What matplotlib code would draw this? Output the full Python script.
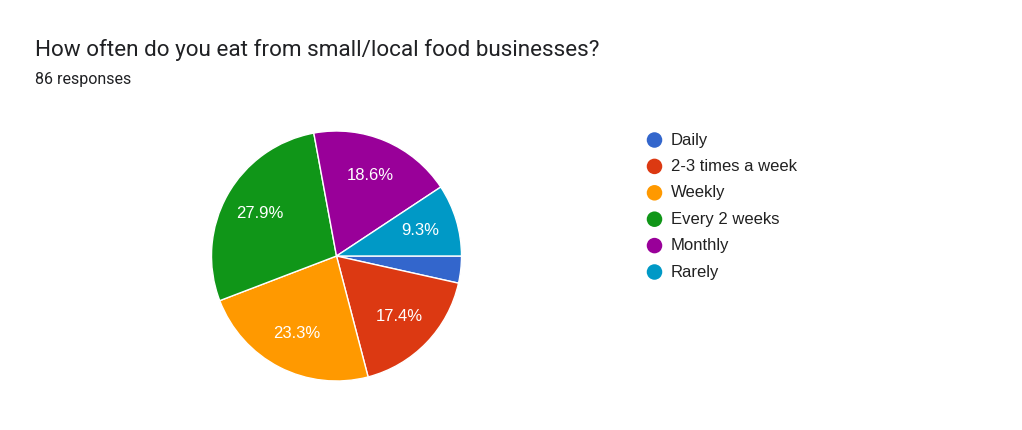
import matplotlib
matplotlib.use("Agg")
import matplotlib.pyplot as plt

W, H = 1022, 430

title = "How often do you eat from small/local food businesses?"
subtitle = "86 responses"
labels = ["Daily", "2-3 times a week", "Weekly", "Every 2 weeks", "Monthly", "Rarely"]
counts = [3, 15, 20, 24, 16, 8]
colors = ["#3366cc", "#dc3912", "#ff9900", "#109618", "#990099", "#0099c6"]


def pct(p):
    return f"{p:.1f}%" if p >= 5 else ""


fig = plt.figure(figsize=(W / 100, H / 100), dpi=100)
fig.patch.set_facecolor("white")

# pie: centre (336.5, 256), radius 125 px
cx, cy, r = 336.5, 256, 125
ax = fig.add_axes([(cx - r) / W, (H - cy - r) / H, 2 * r / W, 2 * r / H])
wedges, texts, autotexts = ax.pie(
    counts, colors=colors, startangle=0, counterclock=False,
    autopct=pct, pctdistance=0.7,
    wedgeprops=dict(edgecolor="white", linewidth=1.0),
    textprops=dict(color="white", fontsize=12, family="Liberation Sans"))
ax.set_xlim(-1, 1)
ax.set_ylim(-1, 1)
ax.set_aspect("equal")

# overlay in pixel coordinates for title and legend
ov = fig.add_axes([0, 0, 1, 1], facecolor="none")
ov.set_xlim(0, W)
ov.set_ylim(H, 0)
ov.axis("off")

ov.text(35, 56, title, fontsize=16.2, family="Roboto", color="#202124", va="baseline")
ov.text(35, 84, subtitle, fontsize=11.5, family="Roboto", color="#202124", va="baseline")

y0, dy = 140, 26.4
for i, (lab, col) in enumerate(zip(labels, colors)):
    y = y0 + i * dy
    ov.scatter([654.5], [y], s=125, color=col, edgecolors="none")
    ov.text(671, y, lab, fontsize=12, family="Liberation Sans", color="#212121", va="center")

fig.savefig("out.png", dpi=100, facecolor="white")
